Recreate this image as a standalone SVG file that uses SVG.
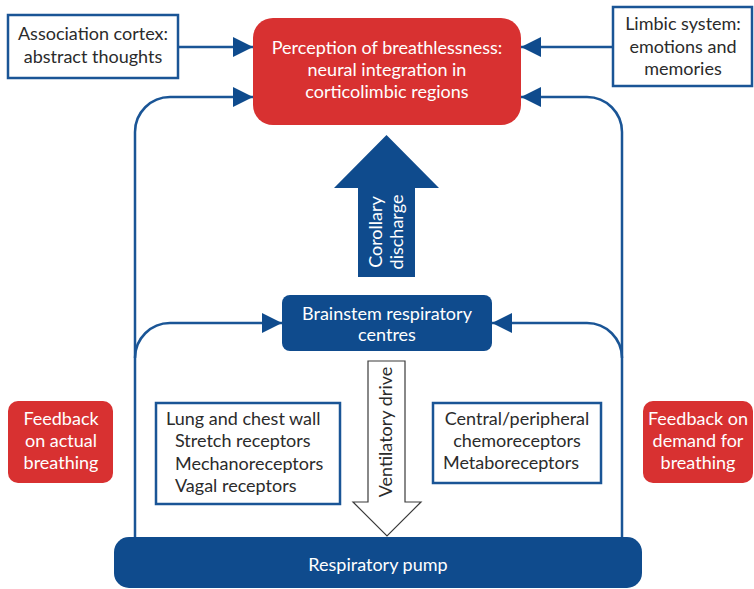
<svg xmlns="http://www.w3.org/2000/svg" width="754" height="589" viewBox="0 0 754 589">
  <style>
    text { font-family: Lato, "Open Sans", "Liberation Sans", sans-serif; font-size: 18px; }
    .red { fill: #d83131; }
    .blue { fill: #0f4b8d; }
    .outline { fill: #ffffff; stroke: #1a5596; stroke-width: 2.5; }
    .wt { fill: #ffffff; }
    .dk { fill: #2b2b2b; }
    .mid { text-anchor: middle; }
    .link { fill: none; stroke: #1a5596; stroke-width: 2.5; }
  </style>
  <defs>
    <marker id="tri" viewBox="0 0 10 10" refX="10" refY="5" markerWidth="22" markerHeight="20" markerUnits="userSpaceOnUse" orient="auto">
      <path d="M0,0 L10,5 L0,10 Z" fill="#0f4b8d"/>
    </marker>
  </defs>
  <rect width="754" height="589" fill="#ffffff"/>

  <!-- connectors -->
  <g id="connectors">
    <!-- side inputs to perception -->
    <path class="link" d="M178,47 H253" marker-end="url(#tri)"/>
    <path class="link" d="M613,47 H521" marker-end="url(#tri)"/>
    <!-- feedback loops up to perception -->
    <path class="link" d="M135,537 V132 A35,35 0 0 1 170,97 H253" marker-end="url(#tri)"/>
    <path class="link" d="M622,537 V132 A35,35 0 0 0 587,97 H521" marker-end="url(#tri)"/>
    <!-- feedback loops to brainstem -->
    <path class="link" d="M135,358 A35,35 0 0 1 170,323 H282" marker-end="url(#tri)"/>
    <path class="link" d="M622,358 A35,35 0 0 0 587,323 H492" marker-end="url(#tri)"/>
    <!-- corollary discharge block arrow -->
    <path class="blue" d="M358,277 V188 H334 L386.5,135 L439,188 H415 V277 Z"/>
    <!-- ventilatory drive block arrow -->
    <path d="M368,361 H405 V502 H421 L387,536 L353,502 H368 Z" fill="#ffffff" stroke="#3a3a3a" stroke-width="1.2"/>
  </g>

  <g id="perception">
    <rect class="red" x="253" y="18" width="268" height="107" rx="20"/>
    <text class="wt mid" x="387" y="54">Perception of breathlessness:</text>
    <text class="wt mid" x="387" y="76">neural integration in</text>
    <text class="wt mid" x="387" y="98">corticolimbic regions</text>
  </g>

  <g id="association">
    <rect class="outline" x="8" y="15" width="170" height="63"/>
    <text class="dk mid" x="93" y="40">Association cortex:</text>
    <text class="dk mid" x="93" y="63">abstract thoughts</text>
  </g>

  <g id="limbic">
    <rect class="outline" x="613" y="7" width="139" height="79"/>
    <text class="dk mid" x="683" y="30">Limbic system:</text>
    <text class="dk mid" x="683" y="53">emotions and</text>
    <text class="dk mid" x="683" y="75">memories</text>
  </g>

  <g id="corollary-label">
    <text class="wt mid" transform="translate(382,232) rotate(-90)">Corollary</text>
    <text class="wt mid" transform="translate(403,232) rotate(-90)">discharge</text>
  </g>

  <g id="brainstem">
    <rect class="blue" x="282" y="295" width="210" height="56" rx="8"/>
    <text class="wt mid" x="387" y="320">Brainstem respiratory</text>
    <text class="wt mid" x="387" y="341">centres</text>
  </g>

  <g id="ventilatory-label">
    <text class="dk mid" transform="translate(392,432) rotate(-90)">Ventilatory drive</text>
  </g>

  <g id="lung">
    <rect class="outline" x="156" y="403" width="184" height="101"/>
    <text class="dk" x="166" y="425">Lung and chest wall</text>
    <text class="dk" x="175" y="447">Stretch receptors</text>
    <text class="dk" x="175" y="470">Mechanoreceptors</text>
    <text class="dk" x="175" y="492">Vagal receptors</text>
  </g>

  <g id="chemo">
    <rect class="outline" x="433" y="403" width="168" height="80"/>
    <text class="dk mid" x="517" y="425">Central/peripheral</text>
    <text class="dk mid" x="517" y="447">chemoreceptors</text>
    <text class="dk mid" x="511" y="469">Metaboreceptors</text>
  </g>

  <g id="feedback-actual">
    <rect class="red" x="8" y="401" width="105" height="82" rx="10"/>
    <text class="wt mid" x="61" y="425">Feedback</text>
    <text class="wt mid" x="61" y="447">on actual</text>
    <text class="wt mid" x="61" y="469">breathing</text>
  </g>

  <g id="feedback-demand">
    <rect class="red" x="643" y="401" width="110" height="82" rx="10"/>
    <text class="wt mid" x="698" y="425">Feedback on</text>
    <text class="wt mid" x="698" y="447">demand for</text>
    <text class="wt mid" x="698" y="469">breathing</text>
  </g>

  <g id="pump">
    <rect class="blue" x="114" y="537" width="528" height="51" rx="15"/>
    <text class="wt mid" x="378" y="571">Respiratory pump</text>
  </g>
</svg>
